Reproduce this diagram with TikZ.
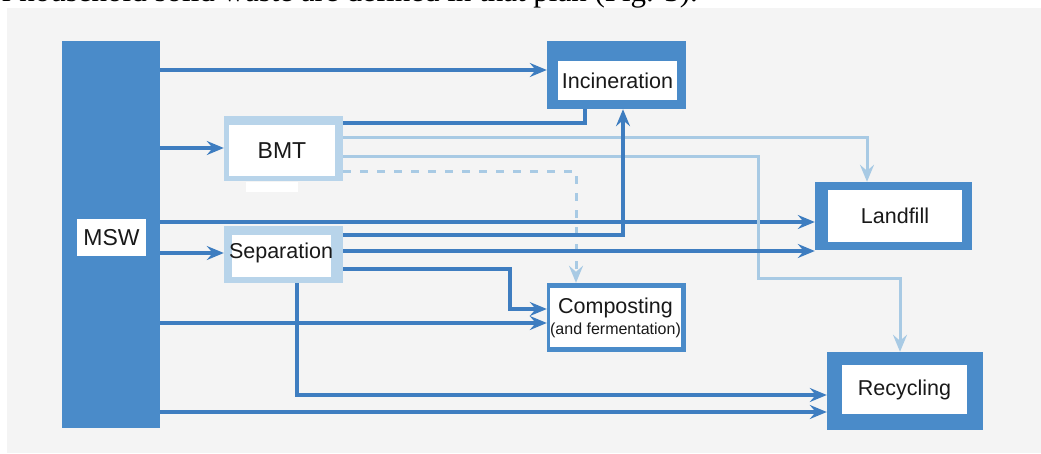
\documentclass[tikz,border=0pt]{standalone}
\usepackage{fontspec}
\setmainfont{Liberation Sans}
\newfontfamily\captionserif{Liberation Serif}
\usetikzlibrary{arrows.meta}
\definecolor{boxblue}{RGB}{74,139,201}
\definecolor{arrowblue}{RGB}{62,125,192}
\definecolor{paleblue}{RGB}{184,212,234}
\definecolor{palearrow}{RGB}{168,202,228}
\definecolor{panelgray}{RGB}{244,244,244}
\definecolor{textblack}{RGB}{25,25,25}
\begin{document}
\begin{tikzpicture}[x=1pt,y=-1pt,
  outerbox/.style={rectangle, fill=boxblue, draw=none, inner sep=0pt},
  paleouter/.style={rectangle, fill=paleblue, draw=none, inner sep=0pt},
  innerbox/.style={rectangle, fill=white, draw=none, inner sep=0pt, text=textblack,
     font=\fontsize{21.5}{24}\selectfont},
  darr/.style={draw=arrowblue, line width=3.4pt, -{Stealth[length=17pt,width=14pt,inset=6pt]}},
  dline/.style={draw=arrowblue, line width=3.4pt},
  larr/.style={draw=palearrow, line width=3pt, -{Stealth[length=17pt,width=14pt,inset=6pt]}},
]
\useasboundingbox (0,0) rectangle (1041,453);
\fill[white] (0,0) rectangle (1041,453);
\fill[panelgray] (7,8) rectangle (1041,453);
\begin{scope}
  \clip (0,0) rectangle (1041,8);
  \node[anchor=base east, inner sep=0pt, text=black,
        font=\captionserif\fontsize{31}{32}\selectfont] (caption) at (698,1.5)
        {f household solid waste are defined in that plan (Fig. 3).};
\end{scope}

% boxes
\node[outerbox, minimum width=98pt, minimum height=387pt] (msw) at (111,234.5) {};
\node[innerbox, minimum width=69pt, minimum height=37pt, font=\fontsize{23}{25}\selectfont] (mswT) at (111.5,237.5) {MSW};

\node[outerbox, minimum width=139pt, minimum height=68pt] (inc) at (616.5,75) {};
\node[innerbox, minimum width=119pt, minimum height=39pt] (incT) at (617.5,80.5) {Incineration};

\node[paleouter, minimum width=119pt, minimum height=65pt] (bmt) at (283.5,148.5) {};
\node[innerbox, minimum width=106pt, minimum height=51pt, font=\fontsize{23}{25}\selectfont] (bmtT) at (282,150.5) {BMT};
\node[rectangle, fill=white, inner sep=0pt, minimum width=52pt, minimum height=10pt] (bmtTab) at (272,187) {};

\node[paleouter, minimum width=119pt, minimum height=57pt] (sep) at (283.5,254.5) {};
\node[innerbox, minimum width=99pt, minimum height=42pt] (sepT) at (281.5,256) {};
\node[text=textblack, font=\fontsize{21.5}{24}\selectfont, inner sep=0pt] (sepL) at (281,253) {Separation};

\node[outerbox, minimum width=139pt, minimum height=69pt] (comp) at (616.5,317.5) {};
\node[innerbox, minimum width=131pt, minimum height=59pt, align=center] (compT) at (615.5,317.5)
  {Composting\\[-3pt]{\fontsize{16}{18}\selectfont (and fermentation)}};

\node[outerbox, minimum width=157pt, minimum height=68pt] (land) at (893.5,216) {};
\node[innerbox, minimum width=134pt, minimum height=52pt] (landT) at (895,216) {Landfill};

\node[outerbox, minimum width=156pt, minimum height=78pt] (rec) at (905,391) {};
\node[innerbox, minimum width=125pt, minimum height=49pt] (recT) at (904.5,389.5) {Recycling};

% connectors from MSW
\draw[darr] (msw.east |- 0,70) -- (inc.west |- 0,70);
\draw[darr] (msw.east |- 0,148) -- (bmt.west |- 0,148);
\draw[darr] (msw.east |- 0,222) -- (land.west |- 0,222);
\draw[darr] (msw.east |- 0,253) -- (sep.west |- 0,253);
\draw[darr] (msw.east |- 0,323) -- (comp.west |- 0,323);
\draw[darr] (msw.east |- 0,412) -- (rec.west |- 0,412);

% connectors from BMT
\draw[dline] (bmt.east |- 0,123) -| (585,0 |- inc.south);
\draw[larr] (bmt.east |- 0,137) -| (867,0 |- land.north);
\draw[larr] (bmt.east |- 0,156) -- (758,156) -- (758,278) -| (900,0 |- rec.north);
\draw[larr, dash pattern=on 8pt off 9pt] (bmt.east |- 0,171) -| (576,0 |- comp.north);

% connectors from Separation
\draw[darr] (sep.east |- 0,235) -| (623,0 |- inc.south);
\draw[darr] (sep.east |- 0,251) -- (land.west |- 0,251);
\draw[darr] (sep.east |- 0,269) -- (510,269) |- (comp.west |- 0,309);
\draw[darr] (297,0 |- sep.south) |- (rec.west |- 0,395);
\end{tikzpicture}
\end{document}
